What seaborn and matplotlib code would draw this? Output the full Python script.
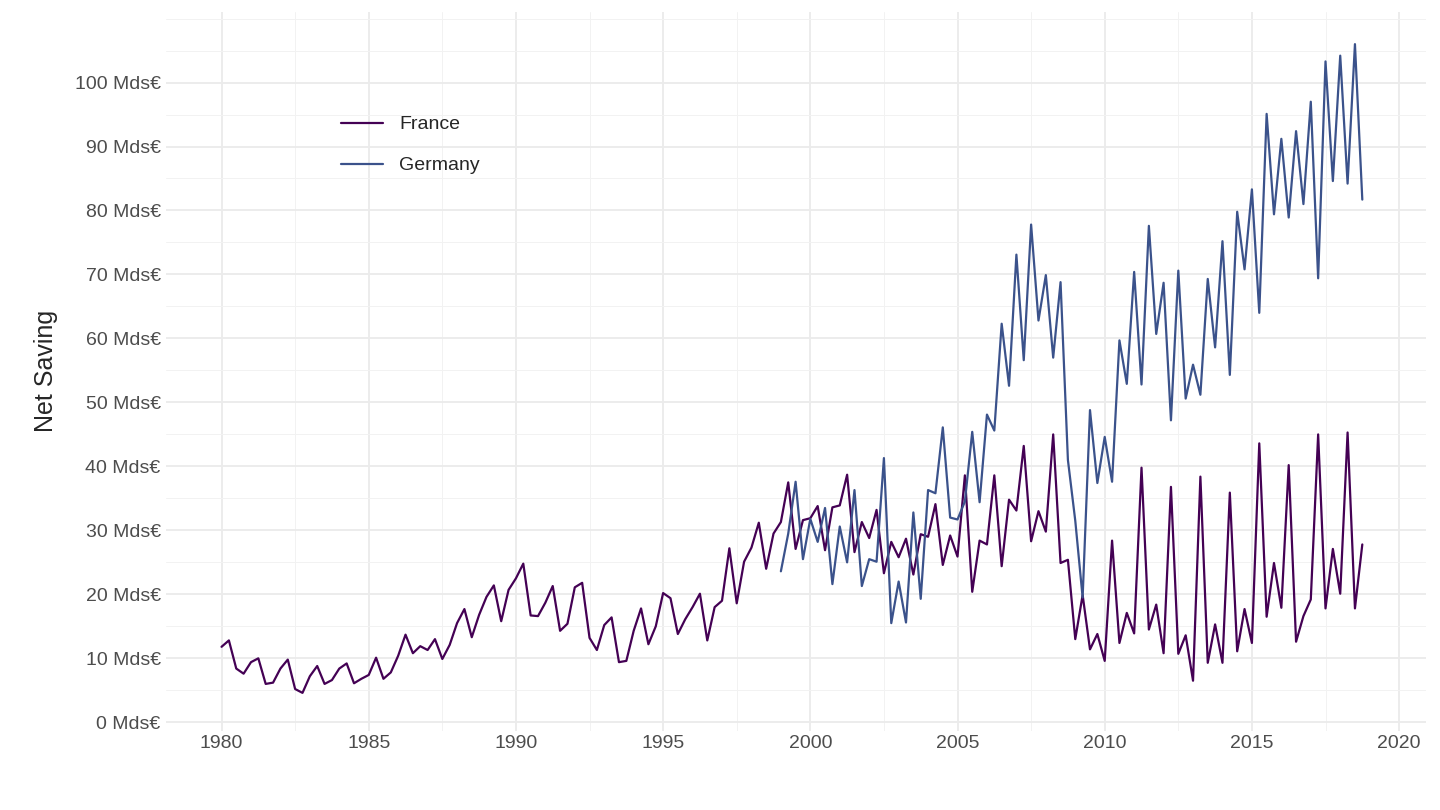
import numpy as np
import pandas as pd
import matplotlib
matplotlib.use('Agg')
import matplotlib.pyplot as plt
import seaborn as sns
from matplotlib.ticker import FixedLocator, FuncFormatter, MultipleLocator

# quarterly net saving, billions of euros
france = [
    11.8, 12.8, 8.4, 7.6, 9.4, 10.0, 6.0, 6.2, 8.4, 9.8, 5.2, 4.6,
    7.2, 8.8, 6.0, 6.6, 8.4, 9.2, 6.1, 6.8, 7.4, 10.1, 6.8, 7.8,
    10.4, 13.7, 10.8, 11.9, 11.3, 13.0, 9.9, 12.1, 15.5, 17.7, 13.3, 16.8,
    19.6, 21.4, 15.8, 20.7, 22.5, 24.8, 16.7, 16.6, 18.7, 21.3, 14.3, 15.4,
    21.1, 21.8, 13.2, 11.3, 15.2, 16.4, 9.4, 9.6, 14.3, 17.8, 12.2, 15.0,
    20.2, 19.4, 13.8, 16.1, 18.0, 20.1, 12.8, 18.0, 19.0, 27.2, 18.6, 25.1,
    27.3, 31.2, 24.0, 29.5, 31.3, 37.5, 27.1, 31.6, 31.9, 33.8, 26.9, 33.6,
    33.9, 38.7, 26.6, 31.3, 28.8, 33.2, 23.3, 28.2, 25.8, 28.7, 23.1, 29.4,
    29.0, 34.1, 24.6, 29.2, 25.9, 38.6, 20.4, 28.4, 27.8, 38.6, 24.4, 34.8,
    33.1, 43.2, 28.3, 33.0, 29.8, 45.0, 24.9, 25.4, 13.0, 19.9, 11.4, 13.8,
    9.6, 28.4, 12.4, 17.1, 13.9, 39.8, 14.5, 18.4, 10.8, 36.8, 10.7, 13.6,
    6.5, 38.4, 9.3, 15.3, 9.3, 35.9, 11.1, 17.7, 12.4, 43.6, 16.5, 24.9,
    17.9, 40.2, 12.6, 16.6, 19.2, 45.0, 17.8, 27.1, 20.1, 45.3, 17.8, 27.8,
]
germany = [
    23.6, 29.5, 37.6, 25.5, 31.8, 28.2, 33.5, 21.6, 30.6, 25.0, 36.3, 21.3,
    25.5, 25.1, 41.3, 15.5, 22.0, 15.6, 32.8, 19.3, 36.3, 35.8, 46.1, 32.0,
    31.7, 34.5, 45.4, 34.4, 48.1, 45.6, 62.3, 52.6, 73.1, 56.6, 77.8, 62.8,
    69.9, 57.0, 68.8, 41.0, 31.5, 19.5, 48.8, 37.4, 44.6, 37.6, 59.7, 52.9,
    70.4, 52.8, 77.6, 60.7, 68.7, 47.2, 70.6, 50.6, 55.9, 51.2, 69.3, 58.6,
    75.2, 54.3, 79.8, 70.8, 83.3, 64.0, 95.1, 79.4, 91.2, 78.9, 92.4, 81.0,
    97.0, 69.4, 103.3, 84.6, 104.2, 84.2, 106.0, 81.7,
]
france_start = 1980
germany_start = 1999
y_breaks = list(range(0, 101, 10))

df = pd.concat([
    pd.DataFrame({'date': france_start + np.arange(len(france)) / 4,
                  'value': france, 'country': 'France'}),
    pd.DataFrame({'date': germany_start + np.arange(len(germany)) / 4,
                  'value': germany, 'country': 'Germany'}),
])

sns.set_theme(style='whitegrid')
plt.rcParams['font.family'] = ['Liberation Sans', 'DejaVu Sans']

fig, ax = plt.subplots(figsize=(14.4, 8.1), dpi=100)
sns.lineplot(data=df, x='date', y='value', hue='country',
             palette={'France': '#440154', 'Germany': '#3B528B'},
             linewidth=1.6, ax=ax)

ax.set_xlim(1978.1, 2020.9)
ax.set_ylim(-1.3, 111)
ax.xaxis.set_major_locator(MultipleLocator(5))
ax.xaxis.set_minor_locator(MultipleLocator(2.5))
ax.yaxis.set_major_locator(FixedLocator(y_breaks))
ax.yaxis.set_minor_locator(FixedLocator([5 + 10 * i for i in range(10)] + [105, 110]))
ax.yaxis.set_major_formatter(FuncFormatter(lambda v, p: f'{int(v)} Mds€'))
ax.grid(which='major', color='#EBEBEB', linewidth=1.3)
ax.grid(which='minor', color='#F2F2F2', linewidth=0.7)
for s in ax.spines.values():
    s.set_visible(False)
ax.tick_params(axis='both', labelsize=14, colors='#4D4D4D', length=0)
ax.set_xlabel('')
ax.set_ylabel('Net Saving', fontsize=18, labelpad=12)

ax.legend(title=None, loc='upper left', bbox_to_anchor=(0.125, 0.88),
          frameon=False, fontsize=14, handlelength=2.2, labelspacing=1.2)

plt.subplots_adjust(left=0.115, right=0.99, top=0.985, bottom=0.098)
plt.savefig('out.png')
plt.close()
